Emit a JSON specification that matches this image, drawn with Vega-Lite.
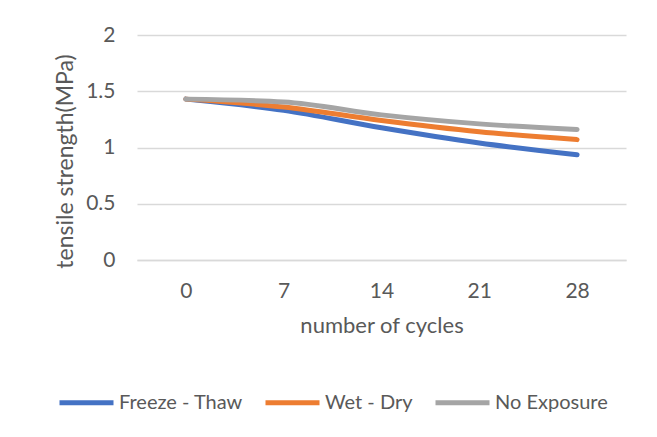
{
  "$schema": "https://vega.github.io/schema/vega-lite/v6.json",
  "width": 489,
  "height": 225,
  "autosize": {"type": "none"},
  "padding": {"left": 137, "top": 35, "right": 31, "bottom": 177},
  "background": "white",
  "config": {
    "view": {"stroke": null},
    "font": "Lato",
    "axis": {"labelColor": "#595959", "titleColor": "#595959", "labelFont": "Lato", "titleFont": "Lato", "titleFontWeight": "normal"}
  },
  "data": {
    "values": [
      {"cycles": 0, "series": "Freeze - Thaw", "value": 1.43},
      {"cycles": 7, "series": "Freeze - Thaw", "value": 1.33},
      {"cycles": 14, "series": "Freeze - Thaw", "value": 1.175},
      {"cycles": 21, "series": "Freeze - Thaw", "value": 1.04},
      {"cycles": 28, "series": "Freeze - Thaw", "value": 0.935},
      {"cycles": 0, "series": "Wet - Dry", "value": 1.43},
      {"cycles": 7, "series": "Wet - Dry", "value": 1.36},
      {"cycles": 14, "series": "Wet - Dry", "value": 1.24},
      {"cycles": 21, "series": "Wet - Dry", "value": 1.14},
      {"cycles": 28, "series": "Wet - Dry", "value": 1.07},
      {"cycles": 0, "series": "No Exposure", "value": 1.43},
      {"cycles": 7, "series": "No Exposure", "value": 1.405},
      {"cycles": 14, "series": "No Exposure", "value": 1.29},
      {"cycles": 21, "series": "No Exposure", "value": 1.21},
      {"cycles": 28, "series": "No Exposure", "value": 1.16}
    ]
  },
  "mark": {"type": "line", "interpolate": "monotone", "strokeWidth": 5, "strokeCap": "round"},
  "encoding": {
    "x": {
      "field": "cycles",
      "type": "ordinal",
      "scale": {"type": "point", "padding": 0.5},
      "axis": {
        "title": "number of cycles",
        "labelAngle": 0,
        "labelFontSize": 21,
        "titleFontSize": 22,
        "labelPadding": 20,
        "titlePadding": 14,
        "ticks": false,
        "domain": true,
        "domainColor": "#d9d9d9",
        "domainWidth": 1.5,
        "grid": false
      }
    },
    "y": {
      "field": "value",
      "type": "quantitative",
      "scale": {"domain": [0, 2]},
      "axis": {
        "title": "tensile strength(MPa)",
        "values": [0, 0.5, 1, 1.5, 2],
        "format": "~g",
        "labelFontSize": 21,
        "titleFontSize": 23,
        "labelPadding": 22,
        "ticks": false,
        "domain": false,
        "gridColor": "#d9d9d9",
        "gridWidth": 1.5,
        "titleX": -72,
        "titleY": 126,
        "titleAngle": -90,
        "titleBaseline": "middle",
        "titleAlign": "center"
      }
    },
    "color": {
      "field": "series",
      "type": "nominal",
      "scale": {"domain": ["Freeze - Thaw", "Wet - Dry", "No Exposure"], "range": ["#4472C4", "#ED7D31", "#A5A5A5"]},
      "legend": {
        "title": null,
        "orient": "none",
        "direction": "horizontal",
        "legendX": -80,
        "legendY": 338,
        "symbolType": "stroke",
        "symbolSize": 2916,
        "symbolStrokeWidth": 5,
        "labelFontSize": 20,
        "labelColor": "#595959",
        "labelFont": "Lato",
        "labelOffset": 3,
        "columnPadding": 12,
        "symbolOffset": 0
      }
    }
  }
}
